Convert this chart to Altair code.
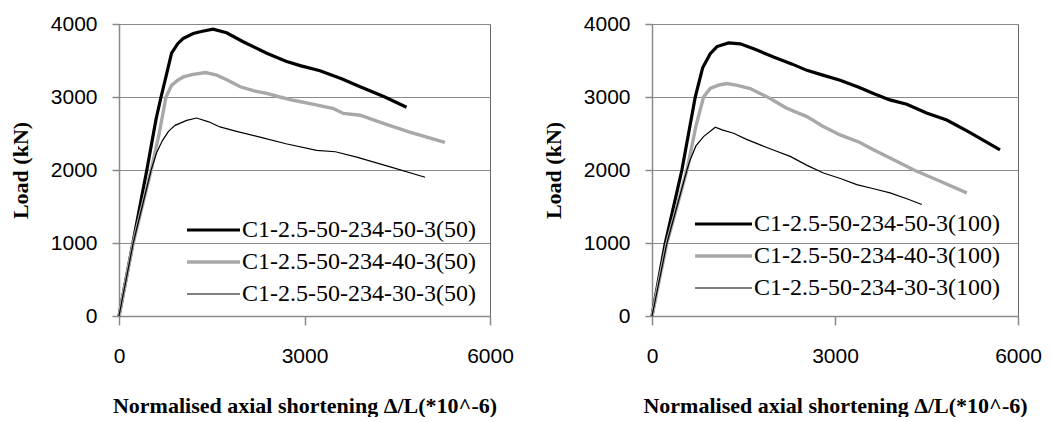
import altair as alt
import pandas as pd

# ---- data ----
L50_x = [0, 225, 450, 600, 680, 780, 850, 950, 1035, 1200, 1350, 1520, 1740, 2000, 2390, 2700, 2930, 3250, 3600, 3900, 4300, 4650]
L50_y = [0, 1000, 2000, 2700, 3000, 3350, 3600, 3730, 3800, 3870, 3900, 3930, 3880, 3760, 3600, 3490, 3430, 3360, 3250, 3140, 3000, 2860]
L40_x = [0, 230, 520, 650, 760, 850, 950, 1040, 1200, 1400, 1580, 1760, 1960, 2200, 2390, 2600, 2820, 3150, 3470, 3630, 3900, 4275, 4700, 5270]
L40_y = [0, 1000, 2000, 2500, 3000, 3160, 3230, 3275, 3310, 3335, 3300, 3230, 3140, 3080, 3050, 3000, 2955, 2900, 2840, 2775, 2750, 2640, 2520, 2380]
L30_x = [0, 230, 520, 610, 700, 800, 906, 1095, 1256, 1450, 1633, 1900, 2280, 2700, 3197, 3500, 3844, 4400, 4950]
L30_y = [0, 1000, 2000, 2240, 2400, 2530, 2612, 2680, 2712, 2660, 2590, 2530, 2451, 2360, 2268, 2250, 2176, 2040, 1900]

R50_x = [0, 218, 490, 709, 830, 955, 1065, 1255, 1446, 1700, 1992, 2300, 2539, 2800, 3084, 3400, 3630, 3900, 4177, 4500, 4832, 5200, 5705]
R50_y = [0, 1000, 2000, 3000, 3400, 3592, 3691, 3741, 3728, 3650, 3547, 3450, 3365, 3300, 3229, 3130, 3048, 2960, 2900, 2780, 2684, 2520, 2276]
R40_x = [0, 245, 573, 720, 845, 955, 1100, 1228, 1400, 1610, 1938, 2200, 2539, 2800, 3084, 3400, 3630, 4067, 4286, 4723, 5160]
R40_y = [0, 1000, 2000, 2600, 3000, 3116, 3165, 3184, 3160, 3116, 2980, 2850, 2731, 2600, 2480, 2380, 2276, 2095, 2004, 1846, 1687]
R30_x = [0, 245, 573, 627, 720, 845, 1037, 1150, 1337, 1550, 1774, 2000, 2265, 2550, 2811, 3100, 3357, 3650, 3903, 4200, 4423]
R30_y = [0, 1000, 2000, 2140, 2330, 2458, 2585, 2550, 2503, 2420, 2344, 2270, 2186, 2060, 1959, 1880, 1800, 1740, 1687, 1600, 1528]

left_names = ["C1-2.5-50-234-50-3(50)", "C1-2.5-50-234-40-3(50)", "C1-2.5-50-234-30-3(50)"]
right_names = ["C1-2.5-50-234-50-3(100)", "C1-2.5-50-234-40-3(100)", "C1-2.5-50-234-30-3(100)"]
colors = ["#000000", "#a8a8a8", "#000000"]
widths = [3.2, 3.4, 1.2]

x_ticks = [0, 3000, 6000]
y_ticks = [0, 1000, 2000, 3000, 4000]
x_title = "Normalised axial shortening \u0394/L(*10^-6)"
y_title = "Load (kN)"


def frame(names, series):
    rows = []
    for i, (xs, ys) in enumerate(series):
        for j, (a, b) in enumerate(zip(xs, ys)):
            rows.append({"series": names[i], "x": a, "y": b, "order": j})
    return pd.DataFrame(rows)


def panel(names, series, lx, ly, symlen, w):
    df = frame(names, series)
    leg = alt.Legend(
        title=None, orient="none", legendX=lx, legendY=ly,
        symbolType="stroke", symbolSize=symlen * symlen,
        labelFont="Liberation Serif", labelFontSize=24, labelColor="#000",
        labelOffset=0, rowPadding=8, clipHeight=24, labelLimit=400,
    )
    return alt.Chart(df).mark_line().encode(
        x=alt.X("x:Q", scale=alt.Scale(domain=[0, 6000], nice=False),
                axis=alt.Axis(values=x_ticks, format="d", title=x_title, grid=False,
                              labelFlush=False,
                              tickSize=9, labelPadding=20, titlePadding=29)),
        y=alt.Y("y:Q", scale=alt.Scale(domain=[0, 4000], nice=False),
                axis=alt.Axis(values=y_ticks, format="d", title=y_title, grid=True,
                              labelFlush=False,
                              tickSize=7, labelPadding=15, titlePadding=18)),
        color=alt.Color("series:N", scale=alt.Scale(domain=names, range=colors), legend=leg),
        strokeWidth=alt.StrokeWidth("series:N", scale=alt.Scale(type="ordinal", domain=names, range=widths), legend=leg),
        order="order:Q",
        detail="series:N",
    ).properties(width=w, height=292)


left = panel(left_names, [(L50_x, L50_y), (L40_x, L40_y), (L30_x, L30_y)], 66, 194, 53, 371)
right = panel(right_names, [(R50_x, R50_y), (R40_x, R40_y), (R30_x, R30_y)], 41, 188, 57, 366)

chart = alt.hconcat(left, right, spacing=27).resolve_scale(
    color="independent", strokeWidth="independent"
).resolve_legend(color="independent", strokeWidth="independent").properties(
    padding={"left": 8, "top": 12, "right": 0, "bottom": 0}, background="white"
).configure_view(stroke="#666666", strokeWidth=1).configure_axis(
    labelFont="Liberation Sans", labelFontSize=21, labelColor="#000",
    titleFont="Liberation Serif", titleFontSize=22, titleFontWeight="bold", titleColor="#000",
    domainColor="#8a8a8a", tickColor="#8a8a8a", gridColor="#8a8a8a",
    domainWidth=1.5, tickWidth=1.5, gridWidth=1.2,
)

chart.save("out.html", embed_options={"renderer": "svg", "actions": False})
